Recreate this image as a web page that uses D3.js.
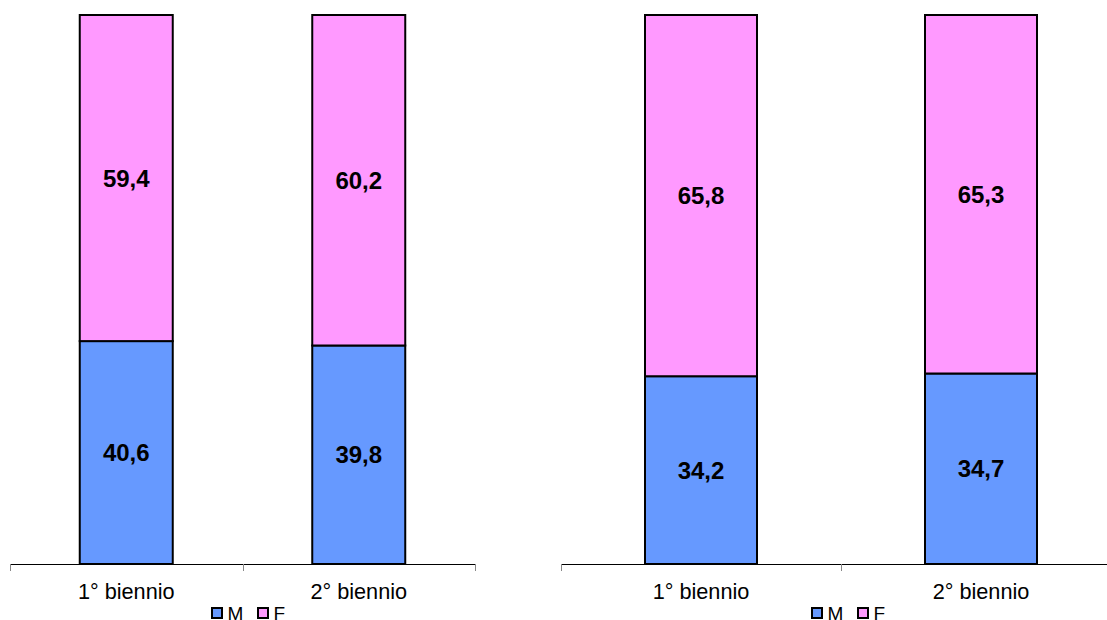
<!DOCTYPE html>
<html><head><meta charset="utf-8">
<script src="https://cdn.jsdelivr.net/npm/d3@7"></script>
<style>body{margin:0;background:#fff}svg{display:block}</style>
</head><body>
<svg id="c" width="1107" height="620"></svg>
<script>
const categories = ["1° biennio", "2° biennio"];
const seriesNames = ["M", "F"];
const leftM = [40.6, 39.8];
const leftF = [59.4, 60.2];
const rightM = [34.2, 34.7];
const rightF = [65.8, 65.3];
const colors = {M: "#6699FF", F: "#FF99FF"};

const svg = d3.select("#c");
const plotTop = 15, plotBottom = 564;
const FONT = "Liberation Sans, Arial, sans-serif";

function panel(x0, x1, mVals, fVals, legendX) {
  const g = svg.append("g");
  const x = d3.scaleBand().domain(categories).range([x0, x1]).paddingInner(0.6).paddingOuter(0.3);
  const y = d3.scaleLinear().domain([0, 100]).range([plotBottom, plotTop]);
  const data = categories.map((c, i) => ({c, M: mVals[i], F: fVals[i]}));
  const stack = d3.stack().keys(seriesNames)(data);
  stack.forEach(layer => {
    g.selectAll(null).data(layer).enter().append("rect")
      .attr("x", d => x(d.data.c)).attr("width", x.bandwidth())
      .attr("y", d => y(d[1])).attr("height", d => y(d[0]) - y(d[1]))
      .attr("fill", colors[layer.key]).attr("stroke", "#000").attr("stroke-width", 2);
  });
  stack.forEach(layer => {
    g.selectAll(null).data(layer).enter().append("text")
      .attr("x", d => x(d.data.c) + x.bandwidth() / 2)
      .attr("y", d => (y(d[0]) + y(d[1])) / 2)
      .attr("dy", "0.36em").attr("text-anchor", "middle")
      .attr("font-family", FONT)
      .attr("font-weight", "bold").attr("font-size", 24)
      .text(d => d3.format(".1f")(d[1] - d[0]).replace(".", ","));
  });
  // axis
  const step = x.step();
  const axisScale = d3.scalePoint().domain(d3.range(categories.length + 1)).range([x0, x0 + step * categories.length]);
  g.append("line").attr("x1", x0).attr("x2", x0 + step * categories.length)
    .attr("y1", plotBottom + 0.5).attr("y2", plotBottom + 0.5).attr("stroke", "#000");
  g.selectAll(null).data(axisScale.domain()).enter().append("line")
    .attr("x1", d => Math.round(axisScale(d)) + 0.5).attr("x2", d => Math.round(axisScale(d)) + 0.5)
    .attr("y1", plotBottom).attr("y2", plotBottom + 7).attr("stroke", "#888");
  g.selectAll(null).data(categories).enter().append("text")
    .attr("x", d => x(d) + x.bandwidth() / 2).attr("y", 599)
    .attr("text-anchor", "middle")
    .attr("font-family", FONT).attr("font-size", 21.7)
    .text(d => d);
  // legend
  const lg = g.append("g").attr("transform", `translate(${legendX},607)`);
  seriesNames.forEach((s, i) => {
    const ox = i * 46;
    lg.append("rect").attr("x", ox + 1).attr("y", 1).attr("width", 10).attr("height", 10)
      .attr("fill", colors[s]).attr("stroke", "#000").attr("stroke-width", 2);
    lg.append("text").attr("x", ox + 16.5).attr("y", 13)
      .attr("font-family", FONT).attr("font-size", 19)
      .text(s);
  });
}

panel(10, 475, leftM, leftF, 211);
panel(561, 1121, rightM, rightF, 811);
</script>
</body></html>
